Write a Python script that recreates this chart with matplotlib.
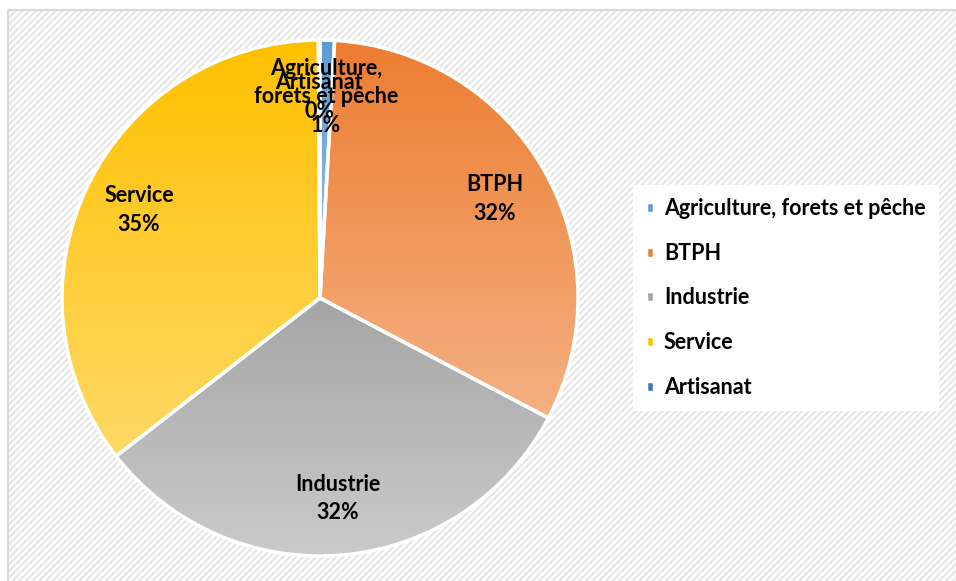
import numpy as np
import matplotlib
matplotlib.use("Agg")
import matplotlib.pyplot as plt
from matplotlib.patches import Rectangle
from matplotlib.colors import to_rgb

# data
sectors = ['Agriculture, forets et pêche', 'BTPH', 'Industrie', 'Service', 'Artisanat']
short_labels = ['Agriculture,\nforets et pêche', 'BTPH', 'Industrie', 'Service', 'Artisanat']
shares = [0.9, 31.8, 31.8, 35.4, 0.1]
pct_text = ['1%', '32%', '32%', '35%', '0%']
top_colors = ['#5B9BD5', '#ED7D31', '#A5A5A5', '#FFC000', '#4472C4']
bottom_colors = ['#9DC3E6', '#F4B183', '#CBCBCB', '#FFD966', '#8FAADC']

plt.rcParams['font.family'] = ['Lato', 'DejaVu Sans']
plt.rcParams['hatch.linewidth'] = 1.6
plt.rcParams['hatch.color'] = '#E6E6E6'

fig = plt.figure(figsize=(9.56, 5.81), dpi=100)
fig.patch.set_facecolor('white')

# hatched chart area background with thin border on left and top
bg = Rectangle((8 / 956, -0.01), 1.0, 1 - 10 / 581 + 0.01, transform=fig.transFigure,
               facecolor='white', edgecolor='#E6E6E6', hatch='/////', linewidth=0,
               zorder=-5)
fig.add_artist(bg)
fig.add_artist(Rectangle((8 / 956, 0), 0, 1 - 10 / 581, transform=fig.transFigure,
                         edgecolor='#D9D9D9', linewidth=1.5, fill=False, zorder=-4))
fig.add_artist(Rectangle((8 / 956, 1 - 10 / 581), 1, 0, transform=fig.transFigure,
                         edgecolor='#D9D9D9', linewidth=1.5, fill=False, zorder=-4))

ax = fig.add_axes([62 / 956, 25 / 581, 516 / 956, 516 / 581])
ax.set_facecolor('none')
ax.set_zorder(2)

labels = [f'{n}\n{p}' for n, p in zip(short_labels, pct_text)]
wedges, texts = ax.pie(shares, labels=labels, colors=top_colors, startangle=90,
                       counterclock=False, radius=1.0, labeldistance=0.78,
                       wedgeprops=dict(edgecolor='white', linewidth=2.5),
                       textprops=dict(fontsize=15.5, fontweight='bold', color='black'))
for t in texts:
    t.set_ha('center')
    t.set_va('center')
    t.set_multialignment('center')
    t.set_zorder(5)
    t.set_linespacing(1.45)

leg = fig.legend(wedges, sectors, loc='center left', bbox_to_anchor=(622 / 956, 1 - 298 / 581),
                 frameon=True, fancybox=False, framealpha=1, edgecolor='none',
                 facecolor='white', handlelength=0.4, handleheight=0.4, handletextpad=0.45,
                 labelspacing=1.1, prop=dict(size=15.5, weight='bold'), borderpad=0.6)
leg.set_zorder(3)

# vertical gradient fill for every wedge
for w, c1, c2 in zip(wedges, top_colors, bottom_colors):
    w.set_facecolor('none')
    verts = w.get_path().vertices
    x0, y0 = verts.min(axis=0)
    x1, y1 = verts.max(axis=0)
    t = np.linspace(0, 1, 256)[:, None]
    a, b = np.array(to_rgb(c1)), np.array(to_rgb(c2))
    grad = (a[None, :] * (1 - t) + b[None, :] * t)[:, None, :]
    im = ax.imshow(grad, extent=[x0, x1, y0, y1], origin='upper', aspect='auto',
                   zorder=0.5, interpolation='bilinear')
    im.set_clip_path(w)

ax.set_xlim(-1, 1)
ax.set_ylim(-1, 1)
ax.set_aspect('equal')
ax.axis('off')

fig.savefig('out.png', dpi=100, facecolor='white')
